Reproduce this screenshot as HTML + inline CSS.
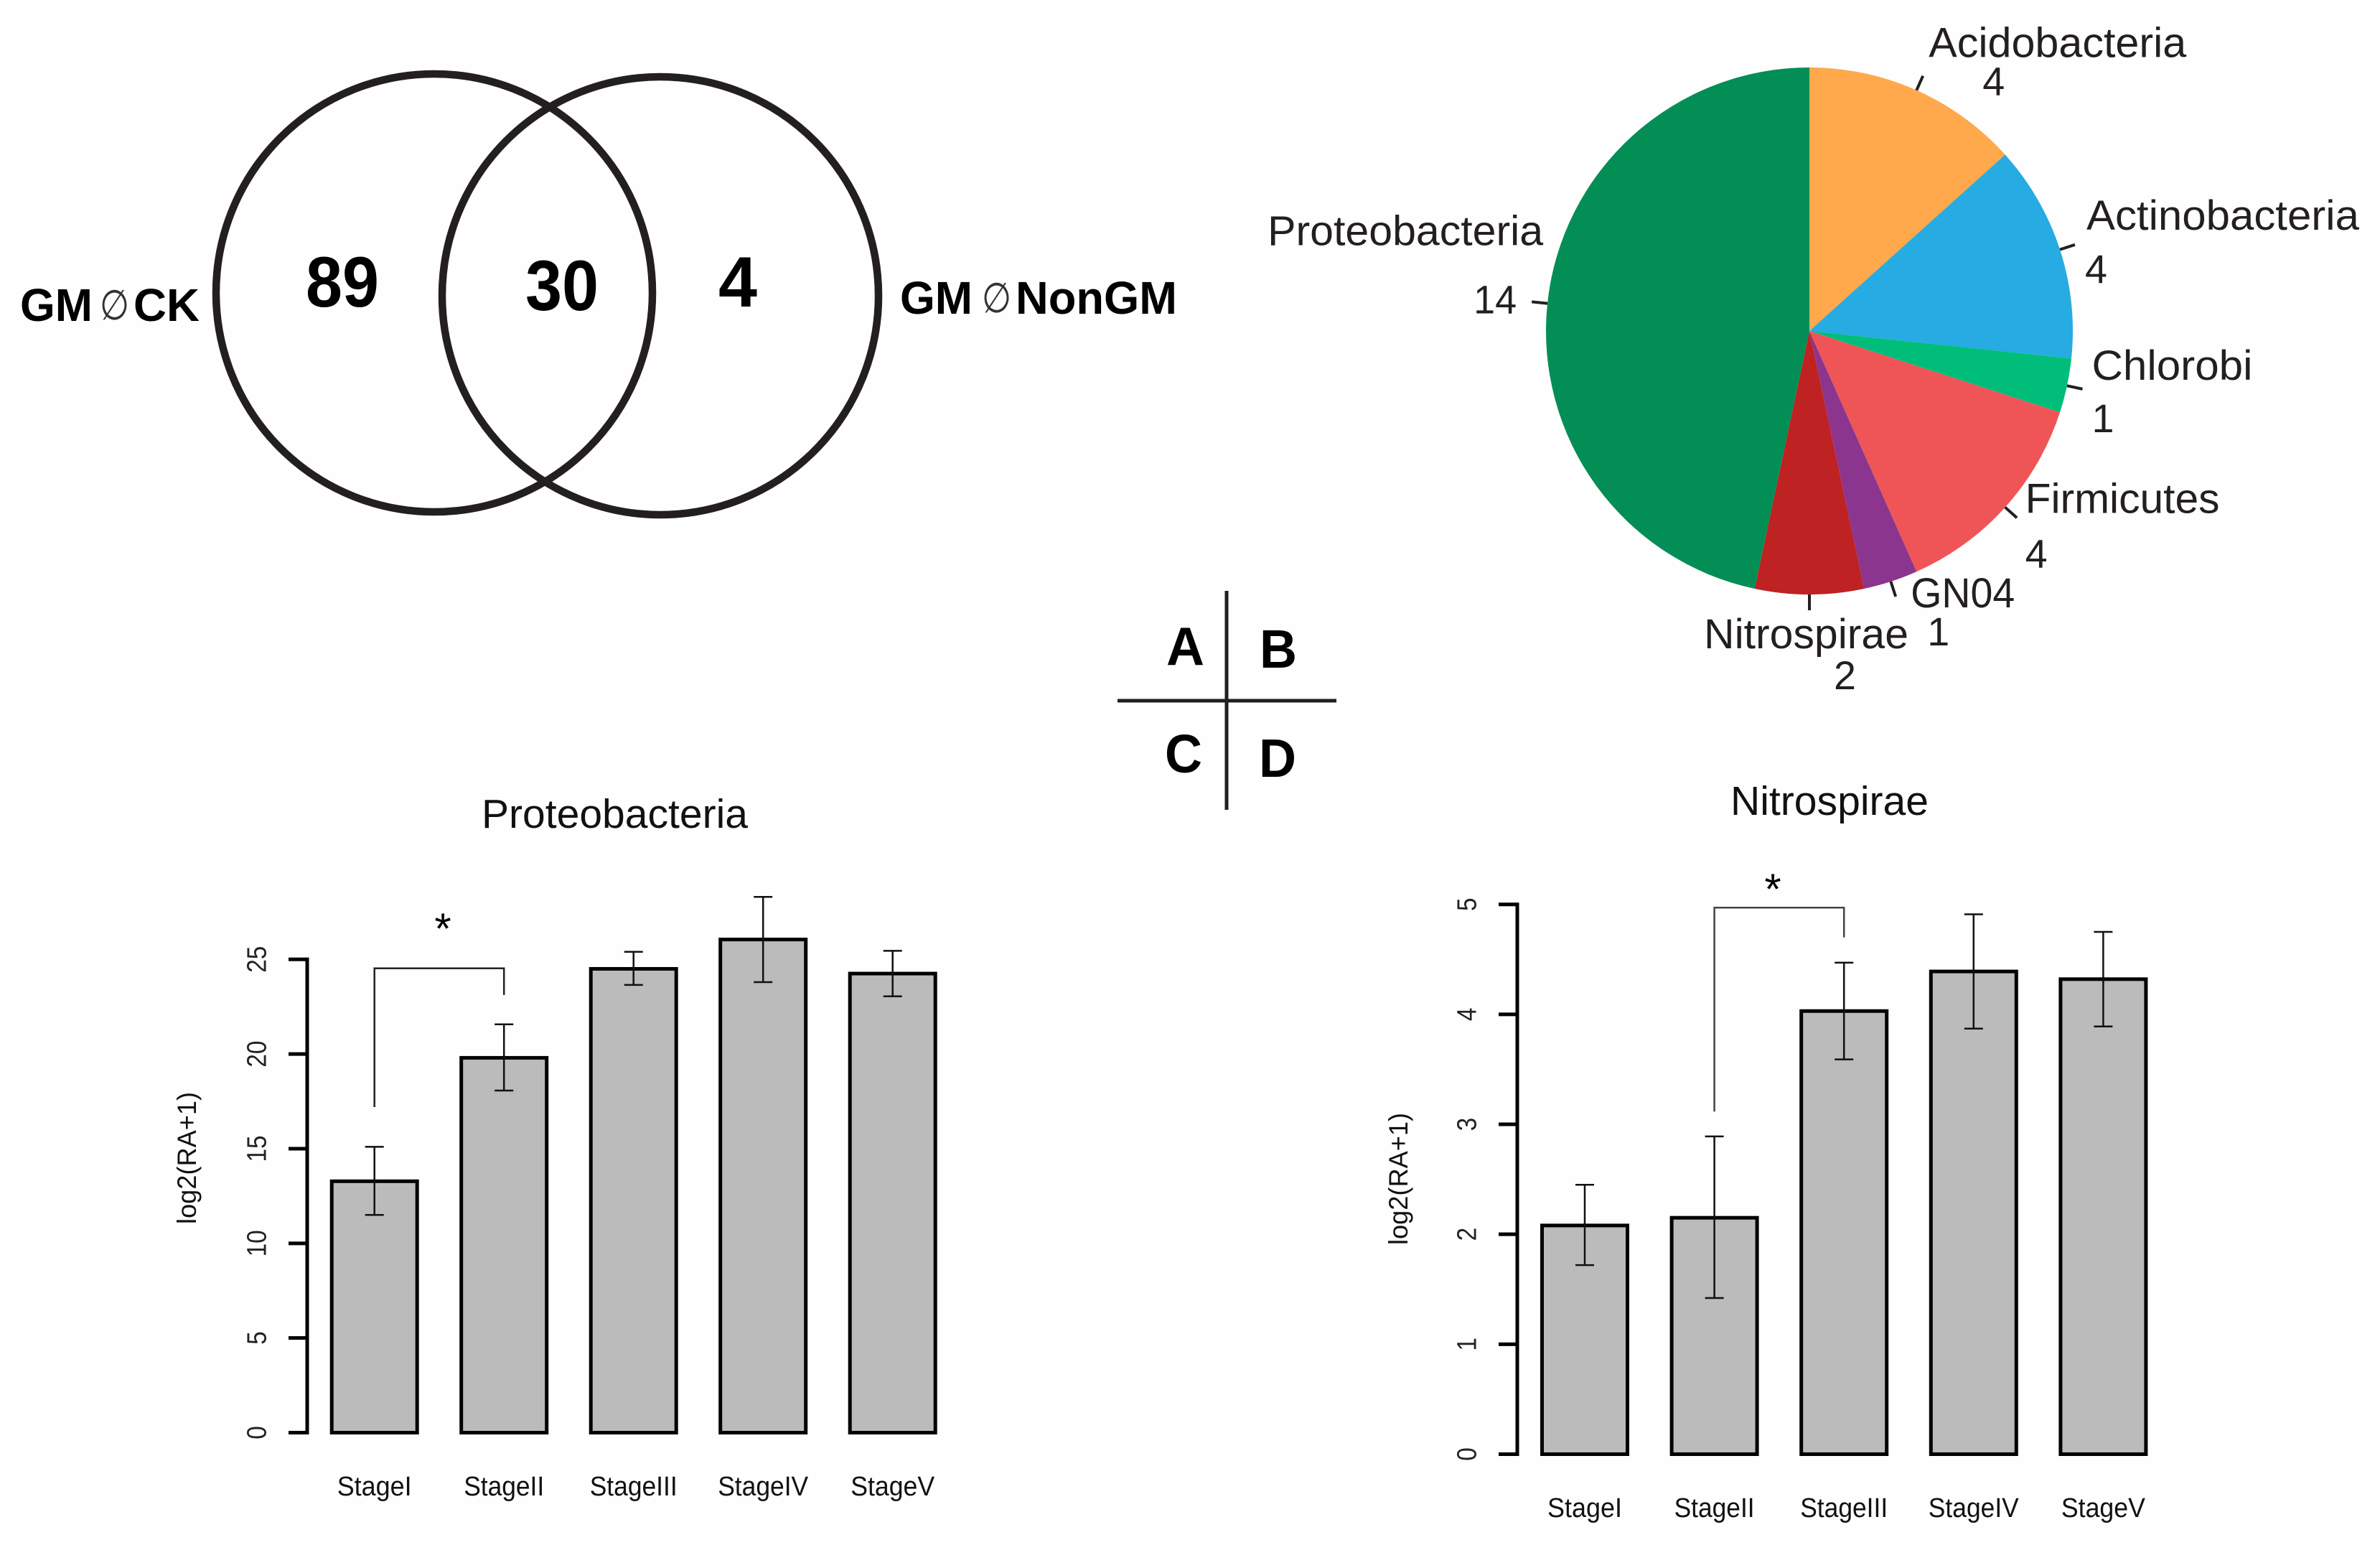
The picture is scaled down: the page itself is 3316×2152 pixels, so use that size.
<!DOCTYPE html>
<html lang="en">
<head>
<meta charset="utf-8">
<title>GM comparison figure</title>
<style>
html,body{margin:0;padding:0;background:#fefefe;}
svg{display:block;font-family:"Liberation Sans",sans-serif;}
</style>
</head>
<body>
<svg id="figure" xmlns="http://www.w3.org/2000/svg" width="3316" height="2152" viewBox="0 0 3316 2152">
  <rect x="0" y="0" width="3316" height="2152" fill="#fefefe"/>

  <g fill="#000">
    <ellipse cx="605" cy="408" rx="304" ry="305" fill="none" stroke="#231f20" stroke-width="10.5"/>
    <ellipse cx="920" cy="412" rx="304" ry="305" fill="none" stroke="#231f20" stroke-width="10.5"/>
    <text x="426" y="427" font-size="99" font-weight="700" textLength="102" lengthAdjust="spacingAndGlyphs">89</text>
    <text x="732" y="432" font-size="99" font-weight="700" textLength="102" lengthAdjust="spacingAndGlyphs">30</text>
    <text x="1001" y="427" font-size="99" font-weight="700" textLength="54" lengthAdjust="spacingAndGlyphs">4</text>
    <text x="28" y="447" font-size="64" font-weight="700" textLength="101" lengthAdjust="spacingAndGlyphs">GM</text>
    <text x="139" y="445" font-size="58" style="font-family:'DejaVu Sans',sans-serif" fill="#333" textLength="41" lengthAdjust="spacingAndGlyphs">∅</text>
    <text x="186" y="447" font-size="64" font-weight="700" textLength="92" lengthAdjust="spacingAndGlyphs">CK</text>
    <text x="1254" y="437" font-size="64" font-weight="700" textLength="101" lengthAdjust="spacingAndGlyphs">GM</text>
    <text x="1368" y="435" font-size="58" style="font-family:'DejaVu Sans',sans-serif" fill="#333" textLength="41" lengthAdjust="spacingAndGlyphs">∅</text>
    <text x="1415" y="437" font-size="64" font-weight="700" textLength="225" lengthAdjust="spacingAndGlyphs">NonGM</text>
  </g>

  <g fill="#000">
    <line x1="1709" y1="823" x2="1709" y2="1128" stroke="#231f20" stroke-width="5"/>
    <line x1="1557" y1="976" x2="1862" y2="976" stroke="#231f20" stroke-width="5"/>
    <text x="1625" y="926" font-size="75" font-weight="700" textLength="53" lengthAdjust="spacingAndGlyphs">A</text>
    <text x="1755" y="930" font-size="75" font-weight="700" textLength="52" lengthAdjust="spacingAndGlyphs">B</text>
    <text x="1623" y="1076" font-size="75" font-weight="700" textLength="52" lengthAdjust="spacingAndGlyphs">C</text>
    <text x="1754" y="1082" font-size="75" font-weight="700" textLength="52" lengthAdjust="spacingAndGlyphs">D</text>
  </g>

  <g id="pie"></g>
  <g id="chartC"></g>
  <g id="chartD"></g>
</svg>

<script>
// ---------- Data ----------
const pieNames = ["Acidobacteria", "Actinobacteria", "Chlorobi", "Firmicutes", "GN04", "Nitrospirae", "Proteobacteria"];
const pieCounts = [4, 4, 1, 4, 1, 2, 14];
const pieColors = ["#ffa84c", "#26abe2", "#00bd7a", "#ef5557", "#8c358e", "#be2222", "#038e56"];

const stages = ["StageI", "StageII", "StageIII", "StageIV", "StageV"];

const proteoValues = [13.28, 19.8, 24.5, 26.05, 24.25];
const proteoUpper = [15.1, 21.57, 25.4, 28.3, 25.45];
const proteoLower = [11.5, 18.07, 23.65, 23.8, 23.05];
const proteoTicks = [0, 5, 10, 15, 20, 25];

const nitroValues = [2.08, 2.15, 4.03, 4.39, 4.32];
const nitroUpper = [2.45, 2.89, 4.47, 4.91, 4.75];
const nitroLower = [1.72, 1.42, 3.59, 3.87, 3.89];
const nitroTicks = [0, 1, 2, 3, 4, 5];

// ---------- Helpers ----------
const NS = "http://www.w3.org/2000/svg";
function make(parent, tag, props, text) {
  const el = document.createElementNS(NS, tag);
  for (const k in props) el.setAttribute(k, props[k]);
  if (text !== undefined) el.textContent = text;
  parent.appendChild(el);
  return el;
}
function slug(s) { return s.toLowerCase(); }

// ---------- Pie ----------
const pieGeom = { cx: 2521, cy: 461, rx: 367, ry: 367, leader: 22 };
// label placement relative to each leader's outer end: [name dx, name dy, name width, count dx, count dy, count width]
const pieLabelLayout = [
  [  8, -26, 359,  83,  27, 31],
  [ 16, -21, 380,  14,  53, 31],
  [ 13, -13, 224,  13,  60, 31],
  [ 11.5, -7, 271, 11.5, 69, 31],
  [ 21,  15, 145,  44,  68, 31],
  [-147, 53, 285,  34, 110, 31],
  [-368, -79, 384, -81, 16, 60]
];
(function drawPie() {
  const root = document.getElementById("pie");
  const total = pieCounts.reduce((a, b) => a + b, 0);
  let acc = 0;
  pieCounts.forEach((count, i) => {
    const a0 = acc / total * 2 * Math.PI;
    acc += count;
    const a1 = acc / total * 2 * Math.PI;
    const mid = (a0 + a1) / 2;
    const px = a => pieGeom.cx + pieGeom.rx * Math.sin(a);
    const py = a => pieGeom.cy - pieGeom.ry * Math.cos(a);
    const large = (a1 - a0) > Math.PI ? 1 : 0;
    const d = `M${pieGeom.cx} ${pieGeom.cy}L${px(a0)} ${py(a0)}A${pieGeom.rx} ${pieGeom.ry} 0 ${large} 1 ${px(a1)} ${py(a1)}Z`;
    const slice = make(root, "path", { d: d, fill: pieColors[i] });
    
    

    const ex = px(mid) + pieGeom.leader * Math.sin(mid);
    const ey = py(mid) - pieGeom.leader * Math.cos(mid);
    const leader = make(root, "line", { x1: px(mid), y1: py(mid), x2: ex, y2: ey, stroke: "#231f20", "stroke-width": 4 });
    
    

    const L = pieLabelLayout[i];
    const name = make(root, "text", { x: ex + L[0], y: ey + L[1], "font-size": 58, fill: "#231f20", textLength: L[2], lengthAdjust: "spacingAndGlyphs" }, pieNames[i]);
    
    
    const num = make(root, "text", { x: ex + L[3], y: ey + L[4], "font-size": 56, fill: "#231f20", textLength: L[5], lengthAdjust: "spacingAndGlyphs" }, String(count));
    
    
  });
})();

// ---------- Bars ----------
const xLabelWidths = [104, 112, 122, 126, 117];
function drawBars(cfg) {
  const root = document.getElementById(cfg.id);
  const yMax = cfg.ticks[cfg.ticks.length - 1];
  const y = v => cfg.y0 - (v / yMax) * (cfg.y0 - cfg.yTop);
  const x = i => cfg.x0 + i * cfg.step;

  const title = make(root, "text", { x: cfg.titleX, y: cfg.titleY, "font-size": 57, fill: "#111", textLength: cfg.titleW, lengthAdjust: "spacingAndGlyphs" }, cfg.title);
  
  

  const axis = make(root, "line", { x1: cfg.axisX, y1: y(0) + 2.5, x2: cfg.axisX, y2: y(yMax) - 2.5, stroke: "#000", "stroke-width": 5 });
  
  

  cfg.ticks.forEach(t => {
    const tick = make(root, "line", { x1: cfg.axisX - 26, y1: y(t), x2: cfg.axisX, y2: y(t), stroke: "#000", "stroke-width": 5 });
    
    
    const lx = cfg.axisX - 57.5;
    const s = String(t);
    const lab = make(root, "text", { x: lx, y: y(t), "font-size": 38, fill: "#222", "text-anchor": "middle", textLength: 18.5 * s.length, lengthAdjust: "spacingAndGlyphs", transform: `rotate(-90 ${lx} ${y(t)})` }, s);
    
    
  });

  const yTitle = make(root, "text", { x: cfg.yTitleX, y: cfg.yTitleY, "font-size": 37, fill: "#111", "text-anchor": "middle", textLength: 184, lengthAdjust: "spacingAndGlyphs", transform: `rotate(-90 ${cfg.yTitleX} ${cfg.yTitleY})` }, "log2(RA+1)");
  
  

  cfg.values.forEach((v, i) => {
    const bar = make(root, "rect", { x: x(i) - 59.5, y: y(v), width: 119, height: y(0) - y(v), fill: "#bbbbbb", stroke: "#000", "stroke-width": 5 });
    
    

    const err = make(root, "path", {
      d: `M${x(i)} ${y(cfg.upper[i])}V${y(cfg.lower[i])}M${x(i) - 13} ${y(cfg.upper[i])}H${x(i) + 13}M${x(i) - 13} ${y(cfg.lower[i])}H${x(i) + 13}`,
      fill: "none", stroke: "#111", "stroke-width": 2.5
    });
    
    

    const lab = make(root, "text", { x: x(i), y: cfg.labelY, "font-size": 38, fill: "#111", "text-anchor": "middle", textLength: xLabelWidths[i], lengthAdjust: "spacingAndGlyphs" }, stages[i]);
    
    
  });

  const b = cfg.bracket;
  const bracket = make(root, "path", {
    d: `M${x(b.from)} ${y(b.fromBottom)}V${y(b.top)}H${x(b.to)}V${y(b.toBottom)}`,
    fill: "none", stroke: b.color, "stroke-width": 2.5
  });
  
  
  const star = make(root, "text", { x: cfg.starX, y: cfg.starY, "font-size": 60, fill: "#000", "text-anchor": "middle" }, "*");
  
  
}

drawBars({
  id: "chartC", title: "Proteobacteria", titleX: 671, titleY: 1153, titleW: 371,
  values: proteoValues, upper: proteoUpper, lower: proteoLower, ticks: proteoTicks,
  y0: 1995.5, yTop: 1336.3, axisX: 428, x0: 521.7, step: 180.5, labelY: 2083,
  yTitleX: 273, yTitleY: 1613,
  bracket: { from: 0, to: 1, fromBottom: 17.2, top: 24.53, toBottom: 23.12, color: "#222" },
  starX: 617, starY: 1314
});
drawBars({
  id: "chartD", title: "Nitrospirae", titleX: 2411, titleY: 1135, titleW: 276,
  values: nitroValues, upper: nitroUpper, lower: nitroLower, ticks: nitroTicks,
  y0: 2025.5, yTop: 1259.7, axisX: 2114, x0: 2208, step: 180.6, labelY: 2113,
  yTitleX: 1961, yTitleY: 1642,
  bracket: { from: 1, to: 2, fromBottom: 3.116, top: 4.97, toBottom: 4.7, color: "#444" },
  starX: 2470, starY: 1259
});
</script>
</body>
</html>
